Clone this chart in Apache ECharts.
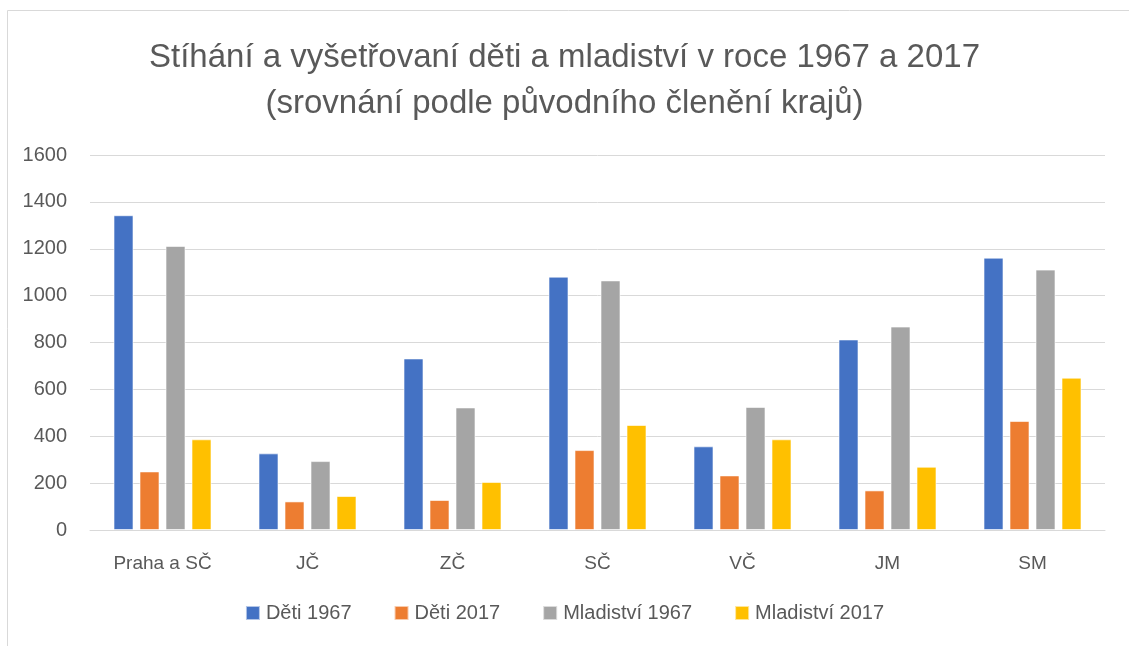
<!DOCTYPE html>
<html>
<head>
<meta charset="utf-8">
<script src="https://cdn.jsdelivr.net/npm/echarts@6/dist/echarts.min.js"></script>
<style>
  html, body { margin: 0; padding: 0; background: #fff; }
  #chart { width: 1129px; height: 646px; }
</style>
</head>
<body>
<div id="chart"></div>
<script>
// kraje (původní členění)
var categories = ['Praha a SČ', 'JČ', 'ZČ', 'SČ', 'VČ', 'JM', 'SM'];
var deti1967 = [1343, 327, 732, 1081, 357, 813, 1162];
var deti2017 = [250, 122, 128, 341, 233, 169, 465];
var mladistvi1967 = [1212, 294, 523, 1065, 525, 868, 1111];
var mladistvi2017 = [387, 145, 205, 448, 387, 270, 650];
var colors = ['#4472C4', '#ED7D31', '#A5A5A5', '#FFC000'];

var font = 'Liberation Sans, Arial, sans-serif';
var chart = echarts.init(document.getElementById('chart'));

function bar(name, data) {
  return {
    name: name,
    type: 'bar',
    barWidth: 20,
    barGap: '30%',
    data: data,
    itemStyle: { borderColor: 'rgba(255,255,255,0.6)', borderWidth: 1 },
    emphasis: { disabled: true }
  };
}

var option = {
  animation: false,
  color: colors,
  textStyle: { fontFamily: font },
  title: {
    text: 'Stíhání a vyšetřovaní děti a mladiství v roce 1967 a 2017\n(srovnání podle původního členění krajů)',
    left: 'center',
    top: 30,
    textStyle: {
      color: '#595959',
      fontSize: 33,
      fontWeight: 'normal',
      fontFamily: font,
      lineHeight: 46
    }
  },
  graphic: [{
    type: 'rect',
    shape: { x: 7.5, y: 10.5, width: 1200, height: 700 },
    style: { fill: 'none', stroke: '#d9d9d9', lineWidth: 1 },
    silent: true
  }],
  legend: {
    bottom: 18,
    left: 'center',
    itemWidth: 14,
    itemHeight: 14,
    itemGap: 42,
    icon: 'rect',
    textStyle: { color: '#595959', fontSize: 20, fontFamily: font, padding: [0, 0, 0, 1] }
  },
  grid: { left: 90, right: 24, top: 155, bottom: 116 },
  xAxis: {
    type: 'category',
    data: categories,
    axisTick: { show: false },
    axisLine: { lineStyle: { color: '#d9d9d9', width: 1 } },
    axisLabel: { color: '#595959', fontSize: 19, margin: 24, fontFamily: font }
  },
  yAxis: {
    type: 'value',
    min: 0,
    max: 1600,
    interval: 200,
    axisLine: { show: false },
    axisTick: { show: false },
    axisLabel: {
      color: '#595959', fontSize: 20, margin: 23, fontFamily: font,
      formatter: function (v) { return String(v); }
    },
    splitLine: { lineStyle: { color: '#d9d9d9', width: 1 } }
  },
  series: [
    bar('Děti 1967', deti1967),
    bar('Děti 2017', deti2017),
    bar('Mladiství 1967', mladistvi1967),
    bar('Mladiství 2017', mladistvi2017)
  ]
};
chart.setOption(option);
</script>
</body>
</html>
